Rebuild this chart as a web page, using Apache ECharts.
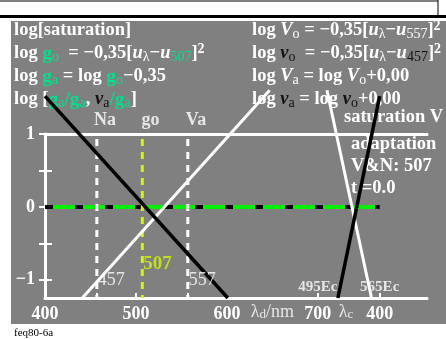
<!DOCTYPE html>
<html>
<head>
<meta charset="utf-8">
<script src="https://cdn.jsdelivr.net/npm/echarts@6/dist/echarts.min.js"></script>
<style>
html, body { margin: 0; padding: 0; background: #fff; }
#chart { width: 446px; height: 339px; }
</style>
</head>
<body>
<div id="chart"></div>
<script>
// line end points: [lambda in nm, log value]
const blackLeft = [[400, 1.52], [601, -1.25]]
const whiteLeft = [[441, -1.25], [647, 1.6]]
const whiteRight = [[710, 1.6], [759, -1.25]]
const blackRight = [[768, 1.52], [722, -1.25]]
const zeroLine = [[400, 0], [768, 0]]

// dashed marker lines Na / go / Va
const markerLambda = [457, 507, 557]
const markerNames = ['Na', 'go', 'Va']
const markerTop = 0.93

// axis ticks and labels
const xTicks = [400, 457, 500, 557, 700, 768]
const xLabelAt = [400, 500, 600, 700, 768]
const xLabelText = ['400', '500', '600', '700', '400']
const yTicks = [-1, -0.5, 0, 0.5, 1]
const yLabelAt = [-1, 0, 1]
const yLabelText = ['\u22121', '0', '1']

// small notes inside the plot
const wlNotes = ['457', '557']
const ecNotes = ['495Ec', '565Ec']
const ecLambda = [700, 768]

const SERIF = '"Liberation Serif", "DejaVu Serif", serif'
const GREEN = '#00e08c'
const YELLOW = '#d2f500'
const FS = 18.5

const chart = echarts.init(document.getElementById('chart'))

function seg(data, color, width, type) {
  return {
    type: 'line',
    data: data,
    clip: false,
    symbol: 'none',
    silent: true,
    lineStyle: { color: color, width: width, type: type || 'solid', cap: 'butt' },
    z: 5
  }
}

function notes(points, label) {
  return {
    type: 'scatter',
    clip: false,
    symbolSize: 0,
    silent: true,
    z: 6,
    data: points,
    label: Object.assign({ show: true, position: 'inside', color: '#fff', fontFamily: SERIF }, label)
  }
}

const markerSeries = markerLambda.map((x, i) =>
  seg([[x, markerTop], [x, -1.25]], i === 1 ? YELLOW : '#fff', 3, [7, 6])
)

function tok(fill, size, weight, style, va) {
  return { fill: fill, fontSize: size, fontWeight: weight, fontStyle: style, fontFamily: SERIF, verticalAlign: va || 'middle', lineHeight: 22 }
}

const rich = {
  t: tok('#fff', FS, 'bold', 'normal'),
  g: tok(GREEN, FS + 1, 'bold', 'normal'),
  gs: Object.assign(tok(GREEN, 14, 'normal', 'normal', 'bottom'), { lineHeight: 16 }),
  u: tok('#fff', FS, 'bold', 'italic'),
  v: tok('#111', FS, 'bold', 'italic'),
  ws: Object.assign(tok('#fff', 14, 'normal', 'normal', 'bottom'), { lineHeight: 16 }),
  ks: Object.assign(tok('#111', 14, 'normal', 'normal', 'bottom'), { lineHeight: 16 }),
  sup: Object.assign(tok('#fff', 14, 'bold', 'normal', 'top'), { lineHeight: 14 })
}

function head(x, y, text) {
  return { type: 'text', x: x, y: y, z: 1, style: { text: text, rich: rich, verticalAlign: 'middle', fill: '#fff', font: 'bold ' + FS + 'px ' + SERIF } }
}

function plain(x, y, text, size) {
  return { type: 'text', x: x, y: y, z: 1, style: { text: text, verticalAlign: 'middle', fill: '#fff', font: 'bold ' + (size || FS) + 'px ' + SERIF } }
}

chart.setOption({
  animation: false,
  backgroundColor: '#fff',
  grid: { left: 45, right: 19, top: 134, bottom: 41 },
  xAxis: [
    {
      type: 'value', min: 400, max: 820,
      axisLine: { onZero: false, lineStyle: { color: '#fff', width: 3 } },
      axisTick: { show: true, inside: true, length: 5, customValues: xTicks, lineStyle: { color: '#fff', width: 2 } },
      axisLabel: {
        customValues: xLabelAt,
        formatter: v => xLabelText[xLabelAt.indexOf(v)] || '',
        color: '#fff', fontFamily: SERIF, fontWeight: 'bold', fontSize: 18, margin: 7
      },
      splitLine: { show: false }
    },
    {
      type: 'value', min: 400, max: 820, position: 'top',
      axisLine: { onZero: false, lineStyle: { color: '#fff', width: 3 } },
      axisTick: { show: false }, axisLabel: { show: false }, splitLine: { show: false }
    }
  ],
  yAxis: [
    {
      type: 'value', min: -1.25, max: 1,
      axisLine: { show: true, onZero: false, lineStyle: { color: '#fff', width: 3 } },
      axisTick: { show: true, length: 6, customValues: yTicks, lineStyle: { color: '#fff', width: 2 } },
      axisLabel: {
        customValues: yLabelAt,
        formatter: v => yLabelText[yLabelAt.indexOf(v)] || '',
        color: '#fff', fontFamily: SERIF, fontWeight: 'bold', fontSize: 18, margin: 10
      },
      splitLine: { show: false }
    },
    {
      type: 'value', min: -1.25, max: 1, position: 'left',
      axisLine: { show: false, onZero: false },
      axisTick: { show: true, inside: true, length: 7, customValues: yTicks, lineStyle: { color: '#fff', width: 2 } },
      axisLabel: { show: false }, splitLine: { show: false }
    }
  ],
  graphic: [
    { type: 'rect', z: -10, shape: { x: 11, y: 21, width: 435, height: 303 }, style: { fill: '#808080' } },
    { type: 'line', z: -5, shape: { x1: 0, y1: 1, x2: 438, y2: 1 }, style: { stroke: '#000', lineWidth: 1 } },
    { type: 'line', z: -5, shape: { x1: 438, y1: 0, x2: 438, y2: 16 }, style: { stroke: '#000', lineWidth: 1 } },
    { type: 'line', z: -5, shape: { x1: 0, y1: 16.5, x2: 446, y2: 16.5 }, style: { stroke: '#000', lineWidth: 3 } },
    plain(14, 30.5, 'log[saturation]'),
    head(14, 53.5, '{t|log }{g|g}{gs|o}{t|  = \u22120,35[}{u|u}{ws|\u03bb}{t|\u2212}{u|u}{gs|507}{t|]}{sup|2}'),
    head(14, 76.5, '{t|log }{g|g}{gs|a}{t| = log }{g|g}{gs|o}{t|\u22120,35}'),
    head(14, 99.5, '{t|log [}{g|g}{gs|a}{g|/g}{gs|a}{t|, }{v|v}{ks|a}{g|/g}{gs|a}{t|]}'),
    head(252, 30.5, '{t|log }{u|V}{ws|o}{t| = \u22120,35[}{u|u}{ws|\u03bb}{t|\u2212}{u|u}{ws|557}{t|]}{sup|2}'),
    head(252, 53.5, '{t|log }{v|v}{ks|o}{t|  = \u22120,35[}{u|u}{ws|\u03bb}{t|\u2212}{u|u}{ks|457}{t|]}{sup|2}'),
    head(252, 76.5, '{t|log }{u|V}{ws|a}{t| = log }{u|V}{ws|o}{t|+0,00}'),
    head(252, 99.5, '{t|log }{v|v}{ks|a}{t| = log }{v|v}{ks|o}{t|+0,00}'),
    plain(344, 117.5, 'saturation V'),
    plain(351, 144.5, 'adaptation'),
    plain(351, 166.5, 'V&N: 507'),
    plain(351, 188.5, 't =0.0'),
    { type: 'text', x: 14, y: 333, z: 1, style: { text: 'feq80-6a', verticalAlign: 'middle', fill: '#000', font: '11px ' + SERIF } }
  ],
  series: [
    seg(zeroLine, '#00f000', 4),
    seg(zeroLine, '#000', 4, [8, 22]),
    ...markerSeries,
    seg(whiteLeft, '#fff', 3),
    seg(whiteRight, '#fff', 3),
    seg(blackLeft, '#000', 3.5),
    seg(blackRight, '#000', 3.5),
    notes(markerNames.map((n, i) => ({ value: [markerLambda[i] + 9, 1.19], label: { formatter: n } })),
      { fontWeight: 'bold', fontSize: 18 }),
    notes(wlNotes.map((n, i) => ({ value: [Number(n) + 1, -1.0], label: { formatter: n } })),
      { fontSize: 18, align: 'left' }),
    notes([{ value: [508, -0.78], label: { formatter: '507' } }],
      { fontWeight: 'bold', fontSize: 19, align: 'left', color: YELLOW }),
    notes(ecNotes.map((n, i) => ({ value: [ecLambda[i], -1.1], label: { formatter: n } })),
      { fontWeight: 'bold', fontSize: 15 }),
    notes([
      { value: [650, -1.45], label: { formatter: '{a|\u03bb}{s|d}{a|/nm}' } },
      { value: [731, -1.45], label: { formatter: '{a|\u03bb}{s|c}' } }
    ], {
      rich: {
        a: { color: '#fff', fontFamily: SERIF, fontSize: 18 },
        s: { color: '#fff', fontFamily: SERIF, fontSize: 13, verticalAlign: 'bottom' }
      }
    })
  ]
})
</script>
</body>
</html>
